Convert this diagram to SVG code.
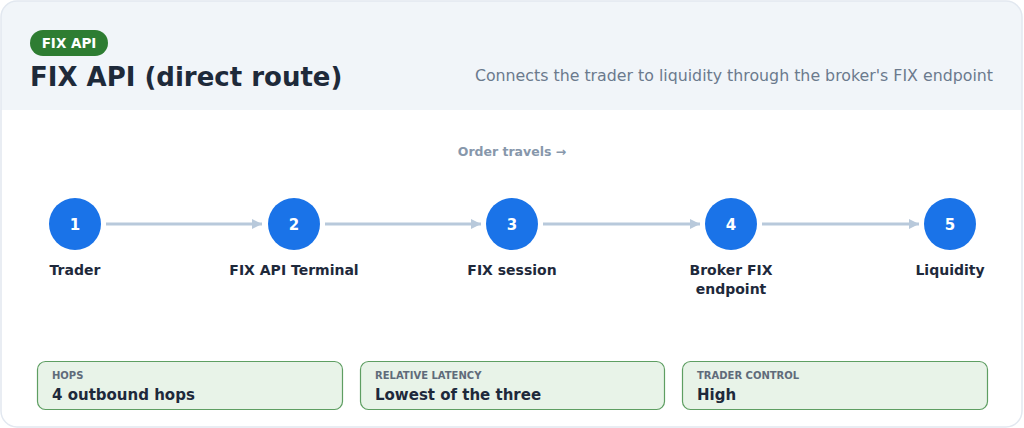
<svg xmlns="http://www.w3.org/2000/svg" width="1024" height="428" viewBox="0 0 1024 428">
<style>
text{font-family:"DejaVu Sans","Liberation Sans",sans-serif}
.num{fill:#fff;font-size:15px;font-weight:bold;text-anchor:middle}
.lbl{fill:#1e293b;font-size:14px;font-weight:bold;text-anchor:middle}
.circ{fill:#1a73e8}
.conn{stroke:#b8c9db;stroke-width:3;fill:none}
.box{fill:#e8f3e8;stroke:#5e9e62;stroke-width:1.2}
.bh{fill:#5f6b7a;font-size:10px;font-weight:bold}
.bv{fill:#1e293b;font-size:15px;font-weight:bold}
</style>
<defs>
<clipPath id="cc"><rect x="1" y="1" width="1021" height="426" rx="16"/></clipPath>
<marker id="ah" viewBox="0 0 10 10" refX="10" refY="5" markerWidth="10" markerHeight="10" markerUnits="userSpaceOnUse" orient="auto"><path d="M0,0L10,5L0,10Z" fill="#b8c9db"/></marker>
</defs>
<rect x="1" y="1" width="1021" height="426" rx="16" fill="#fff"/>
<rect x="0" y="0" width="1024" height="110" fill="#f1f5f9" clip-path="url(#cc)"/>
<rect x="1" y="1" width="1021" height="426" rx="16" fill="none" stroke="#e2e8f0" stroke-width="1.5"/>
<g id="header">
<rect x="30" y="30" width="78" height="26" rx="13" fill="#2e7d32"/>
<text x="69" y="48" fill="#fff" font-size="13.5" font-weight="bold" text-anchor="middle">FIX API</text>
<text x="30" y="86" fill="#1e2a3a" font-size="26" font-weight="bold">FIX API (direct route)</text>
<text x="993" y="81" fill="#6b7a8d" font-size="15.8" text-anchor="end">Connects the trader to liquidity through the broker's FIX endpoint</text>
</g>
<text x="512" y="156" fill="#8797ab" font-size="12.5" font-weight="bold" text-anchor="middle">Order travels →</text>
<g id="connectors">
<line class="conn" x1="106" y1="224" x2="262" y2="224" marker-end="url(#ah)"/>
<line class="conn" x1="325" y1="224" x2="481" y2="224" marker-end="url(#ah)"/>
<line class="conn" x1="543" y1="224" x2="700" y2="224" marker-end="url(#ah)"/>
<line class="conn" x1="762" y1="224" x2="919" y2="224" marker-end="url(#ah)"/>
</g>
<g id="n1"><circle class="circ" cx="75" cy="224" r="26"/><text class="num" x="75" y="229.5">1</text><text class="lbl" x="75" y="275">Trader</text></g>
<g id="n2"><circle class="circ" cx="294" cy="224" r="26"/><text class="num" x="294" y="229.5">2</text><text class="lbl" x="294" y="275">FIX API Terminal</text></g>
<g id="n3"><circle class="circ" cx="512" cy="224" r="26"/><text class="num" x="512" y="229.5">3</text><text class="lbl" x="512" y="275">FIX session</text></g>
<g id="n4"><circle class="circ" cx="731" cy="224" r="26"/><text class="num" x="731" y="229.5">4</text><text class="lbl" x="731" y="275">Broker FIX</text><text class="lbl" x="731" y="294">endpoint</text></g>
<g id="n5"><circle class="circ" cx="950" cy="224" r="26"/><text class="num" x="950" y="229.5">5</text><text class="lbl" x="950" y="275">Liquidity</text></g>
<g id="stat1"><rect class="box" x="37.5" y="361.5" width="305" height="48" rx="8"/><text class="bh" x="52" y="379">HOPS</text><text class="bv" x="52" y="400">4 outbound hops</text></g>
<g id="stat2"><rect class="box" x="360.5" y="361.5" width="304" height="48" rx="8"/><text class="bh" x="375" y="379">RELATIVE LATENCY</text><text class="bv" x="375" y="400">Lowest of the three</text></g>
<g id="stat3"><rect class="box" x="682.5" y="361.5" width="305" height="48" rx="8"/><text class="bh" x="697" y="379">TRADER CONTROL</text><text class="bv" x="697" y="400">High</text></g>
</svg>
